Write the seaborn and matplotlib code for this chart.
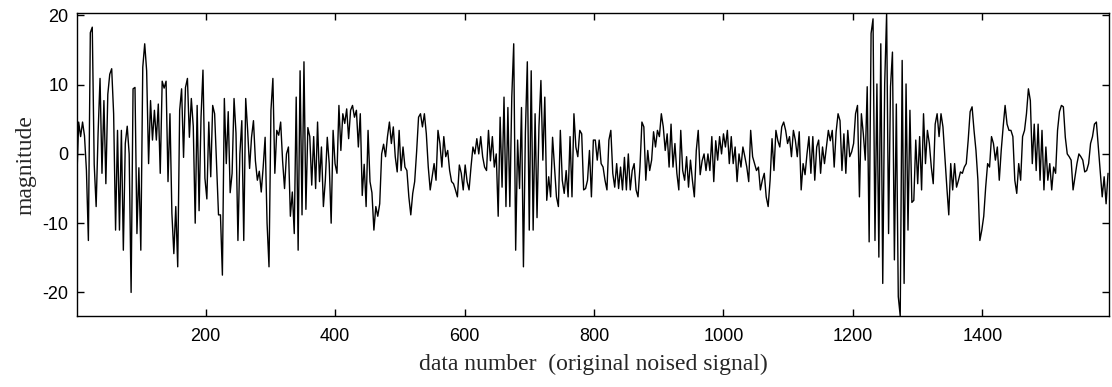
"""Noised signal trace: magnitude vs data number."""

import numpy as np
import matplotlib
matplotlib.use("Agg")
import matplotlib.pyplot as plt
import seaborn as sns

# sample spacing of the values (data numbers)
step = 3
first_number = 1

# magnitude, one block per stretch of the x axis
mag_0001_0151 = [
    -4, 4.6, 2.5, 4.6, 2.6, -2.4, -12.5, 17.5, 18.3, -1.5, -7.6, 3, 10.9,
    -2.8, 7.7, -4.3, 8.6, 11.5, 12.3, 5.8, -11, 3.4, -11, 3.4, -13.9, 1.5,
    4, 0, -20, 9.4, 9.6, -11.5, -2, -13.9, 12.5, 15.9, 12, -1.4, 7.7, 2,
    6.3, 2, 7.2, -2.8, 10.5, 9.5, 10.5, -4, 5.8, -8.6, -14.4,
]
mag_0154_0313 = [
    -7.6, -16.3, 6.3, 9.4, -0.5, 9.6, 10.9, 2.4, 8, 4, -10, 7, -8.2, 5.3,
    12.1, -3.5, -6.5, 4.6, -3.3, 7, 5.8, -1.4, -8.8, -8.8, -17.5, 8, -1.4,
    6.1, -5.6, -2.8, 8, 3, -12.5, 0, 4.8, -12.5, 8, 3.4, -2.1, 2.4, 4.8,
    -1, -3.8, -2.5, -5.5, -1.9, 2.4, -10, -16.3, 6.3, 10.9, -2.8, 3.4, 2.7,
]
mag_0316_0475 = [
    4.6, -1, -5, 0, 1, -9, -5.5, -11.5, 8.2, -13.9, 12, -8.8, 13.3, -8,
    3.8, 2.5, -4.5, 2.5, -5, 4.6, -4, 1, -7.6, -3.8, 2.4, -1.4, -10, 3.4,
    -1.4, -2.8, 7, 0.5, 5.8, 4.4, 6.5, 2.2, 6.3, 7, 5.3, 6.3, 1, 5.8, -6,
    -1.5, -7.6, 3.4, -4, -5.6, -11, -7.6, -9, -7.2, 0, 1.4,
]
mag_0478_0637 = [
    -0.4, 2.5, 4.6, 1.5, 3.9, -0.4, -2.6, 3.4, -2.4, 1, -1.9, -2.4, -6.2,
    -8.8, -5.7, -4, 0.3, 5.3, 5.8, 3.9, 5.8, 2.9, -1.9, -5.2, -3.3, -1.4,
    -3.8, 3.4, 1.5, -1.9, 2.5, -0.4, 0.5, -2.4, -4, -4.3, -5.2, -6.2, -1.6,
    -2.8, -5.2, -1.6, -4, -5.2, -1.9, 1, 0, 2.2, 0, 2.5, -0.4, -1.9, -2.4, 3.4,
]
mag_0640_0799 = [
    -1, 2.5, -1.9, 0, -9, 5.3, -4.8, 8.2, -7.6, 6.7, -7.6, 8.2, 15.9, -13.9,
    2, -5, 6.7, -16.3, 3, 13.3, -11, 12, -11, 5.8, -9.2, 4, 10.6, -0.9,
    8.2, -6.7, -3.3, -6.2, 2.4, -1.9, -6.2, -7.6, 3.4, -3.8, -5.7, -2.4,
    -6.2, 2.5, -6.2, 5.8, 1, -0.4, 3.4, 2.9, -5.2, -5, -3.8, 0.5, -6.2, 2,
]
mag_0802_0961 = [
    2, -0.9, 2, -1.4, -1.9, -3.8, -5.2, 2, 3.4, -2.8, -4.8, -1.4, -5, -1.9,
    -5.2, -0.5, -5.2, 0, -5.2, -2.4, -1.4, -5.2, -6.2, -1.9, 4.6, 3.9, -3.8,
    0.5, -2.4, -0.9, 3.2, 1, 3.4, 2.5, 5.8, 3.9, 0.5, 2.9, -1.9, 4.3, -1.9,
    1.5, -2.8, -5.2, 3.4, -2.4, -3.8, -0.4, -4.8, -0.9, -3.8, -6.2, 0.5, 3.4,
]
mag_0964_1123 = [
    -3, -1, 0, -2.4, 0, -2.4, 2.5, -4, 1.9, -0.9, 2.5, 0, 2.9, 1, 3.4,
    -1.4, 2.5, -1.4, 1, -4, 0, -1.9, 1, -0.4, -1.9, -4, 3.4, -0.4, -1.4,
    -2.4, -1.9, -5.2, -3.8, -2.8, -6.2, -7.6, -3.8, 2.2, -2.4, 3.4, 1.9, 1,
    3.9, 4.6, 3.4, 1.5, 2.5, -0.4, 3.4, 2, -0.4, 3.2, -5.2, -1.4,
]
mag_1126_1285 = [
    -3, 0, 2.5, -2.8, 2.5, -3.8, 1, 2, -2.8, 1, -1.4, 1, 3.4, 1.9, 3.4,
    -1.9, 3.2, 5.8, 4.8, -2.4, 2.9, -2.8, 3.4, -0.4, 0.3, 1.5, 5.8, 7,
    -6.2, 5.8, 2.9, -0.9, 9.7, -12.7, 17.4, 19.5, -12.5, 10.1, -14.9, 15.9,
    -18.7, 10.1, 20.3, -11.5, 9.7, 14.7, -15.3, 7.2, -20.6, -23.4, 13.5,
    -18.7, 10.1, -11,
]
mag_1288_1441 = [
    6.3, -7, -6.7, 2, -4.3, 2.5, -5.2, 5.8, -1.4, 3.4, 1.5, -1.9, -4.3, 4.3,
    5.8, 2.5, 5.8, 3.9, -0.5, -4.8, -8.8, -1.4, -5.2, -1.4, -4.8, -3.8,
    -2.6, -2.8, -1.9, -1.4, 2, 6.1, 6.8, 3.4, 0.5, -3.8, -12.5, -11, -9,
    -4.8, -1.4, -1.9, 2.5, 1.5, -0.9, 1, -3.8, 0.5, 3.9, 7, 4.3, 3.4,
]
mag_1444_1594 = [
    3.4, 2.5, -3.8, -5.7, -1.4, -3.8, 2.5, 3.4, 5.8, 9.4, 7.7, -1.4, 4.3,
    -2.4, 4.3, -3.8, 3.4, -5.2, 1, -3.8, -1.4, -5.2, -1.9, -2.8, 3.4, 6.1,
    7, 6.8, 2.4, 0, -0.4, -0.9, -5.2, -3.3, -1.4, 0, -0.4, -0.9, -2.6,
    -2.4, -1.4, 1.5, 2.5, 4.3, 4.6, 1, -2.8, -6.2, -3.3, -7.2, -2.8,
]

x_ticks = [200, 400, 600, 800, 1000, 1200, 1400]
y_ticks = [-20, -10, 0, 10, 20]
x_last = 1596

magnitude = np.array(
    mag_0001_0151 + mag_0154_0313 + mag_0316_0475 + mag_0478_0637
    + mag_0640_0799 + mag_0802_0961 + mag_0964_1123 + mag_1126_1285
    + mag_1288_1441 + mag_1444_1594
)
data_number = first_number + step * np.arange(len(magnitude))

sns.set_style("ticks")
plt.rcParams["font.family"] = ["Liberation Sans", "DejaVu Sans"]
plt.rcParams["axes.linewidth"] = 1.0
plt.rcParams["axes.unicode_minus"] = False

fig = plt.figure(figsize=(11.12, 3.87), dpi=100)
ax = fig.add_axes([0.069, 0.1835, 0.9286, 0.7821])

sns.lineplot(x=data_number, y=magnitude, color="black", linewidth=1.0, ax=ax)

ax.set_xlim(first_number, x_last)
ax.set_ylim(magnitude.min(), magnitude.max())
ax.set_xticks(x_ticks)
ax.set_yticks(y_ticks)
ax.tick_params(direction="in", length=5, width=1, top=True, right=True,
               labelsize=13, colors="black")
ax.tick_params(axis="x", pad=9)
ax.tick_params(axis="y", pad=6)
for side in ["top", "right", "bottom", "left"]:
    ax.spines[side].set_visible(True)
    ax.spines[side].set_color("black")

ax.set_xlabel("data number  (original noised signal)", family="Liberation Serif",
              fontsize=17, labelpad=6)
ax.set_ylabel("magnitude", family="Liberation Serif", fontsize=17, labelpad=4)

fig.savefig("out.png", dpi=100, facecolor="white")
